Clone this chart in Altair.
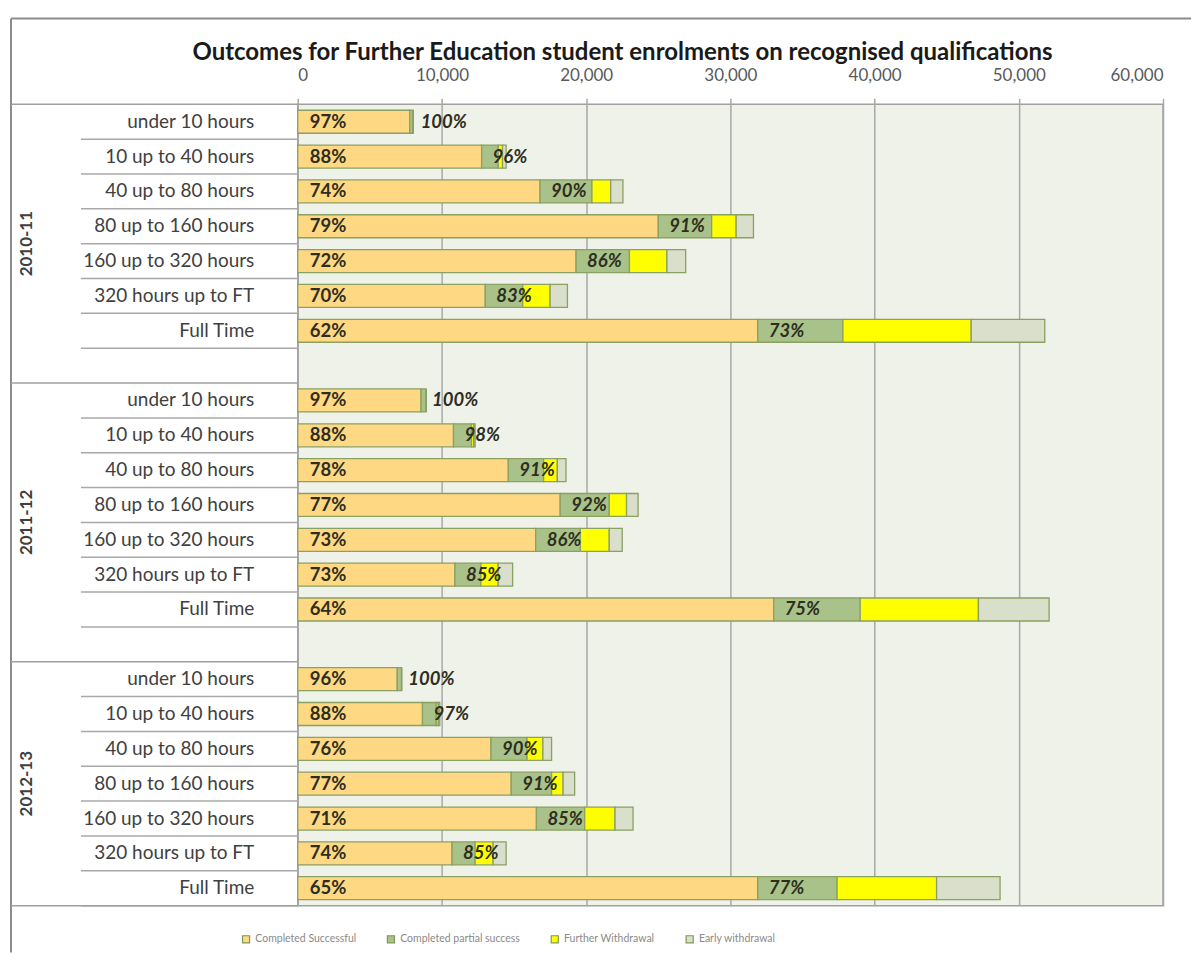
import altair as alt
import pandas as pd

years = ["2010-11", "2011-12", "2012-13"]
categories = ["under 10 hours", "10 up to 40 hours", "40 up to 80 hours",
              "80 up to 160 hours", "160 up to 320 hours", "320 hours up to FT", "Full Time"]
series = ["Completed Successful", "Completed partial success", "Further Withdrawal", "Early withdrawal"]
colors = ["#FFD884", "#A9C28A", "#FFFF00", "#D9DFCA"]

successful = {
    "2010-11": [7760, 12750, 16800, 25000, 19300, 13000, 31900],
    "2011-12": [8550, 10800, 14600, 18200, 16500, 10900, 33000],
    "2012-13": [6900, 8650, 13400, 14800, 16550, 10700, 31900],
}
partial = {
    "2010-11": [240, 1150, 3600, 3700, 3700, 2600, 5900],
    "2011-12": [350, 1250, 2450, 3400, 3100, 1800, 6000],
    "2012-13": [300, 950, 2500, 2800, 3350, 1600, 5500],
}
further = {
    "2010-11": [0, 300, 1300, 1700, 2600, 1900, 8900],
    "2011-12": [0, 150, 950, 1200, 2000, 1200, 8200],
    "2012-13": [0, 150, 1100, 800, 2100, 1250, 6900],
}
early = {
    "2010-11": [0, 250, 850, 1200, 1300, 1200, 5100],
    "2011-12": [0, 100, 600, 800, 900, 1000, 4900],
    "2012-13": [0, 100, 600, 800, 1250, 900, 4400],
}
success_pct = {
    "2010-11": ["97%", "88%", "74%", "79%", "72%", "70%", "62%"],
    "2011-12": ["97%", "88%", "78%", "77%", "73%", "73%", "64%"],
    "2012-13": ["96%", "88%", "76%", "77%", "71%", "74%", "65%"],
}
completed_pct = {
    "2010-11": ["100%", "96%", "90%", "91%", "86%", "83%", "73%"],
    "2011-12": ["100%", "98%", "91%", "92%", "86%", "85%", "75%"],
    "2012-13": ["100%", "97%", "90%", "91%", "85%", "85%", "77%"],
}
title_text = "Outcomes for Further Education student enrolments on recognised qualifications"

# ---- build tables ----
keys = []
for i, yr in enumerate(years):
    keys += [f"{c}|{yr}" for c in categories]
    if i < len(years) - 1:
        keys.append(f"|blank{yr}")

long_rows, label_rows = [], []
for yr in years:
    for j, c in enumerate(categories):
        k = f"{c}|{yr}"
        for o, (s, src) in enumerate(zip(series, [successful, partial, further, early])):
            long_rows.append({"key": k, "series": s, "ord": o, "value": src[yr][j]})
        label_rows.append({"key": k, "zero": 0, "succ": successful[yr][j],
                           "spct": success_pct[yr][j], "cpct": completed_pct[yr][j],
                           "year": yr})
df = pd.DataFrame(long_rows)
lab = pd.DataFrame(label_rows)

W, H = 866, 802
STEP = H / len(keys)

yscale = alt.Scale(domain=keys, paddingInner=0.34, paddingOuter=0.17)
yaxis = alt.Axis(title=None, ticks=False, domain=False, labelExpr="split(datum.label, '|')[0]",
                 labelFont="Lato", labelFontSize=19, labelColor="#404040", labelPadding=44,
                 labelLimit=300)
xscale = alt.Scale(domain=[0, 60000], nice=False)
xaxis = alt.Axis(title=None, orient="top", values=[0, 10000, 20000, 30000, 40000, 50000, 60000],
                 format=",d", grid=True, gridColor="#A8A8A8", gridWidth=1.5, tickColor="#A8A8A8",
                 tickWidth=1.5, tickSize=6, domain=False, labelFont="Lato", labelFontSize=17,
                 labelColor="#595959", labelPadding=14)

def Y():
    return alt.Y("key:N", scale=yscale, axis=yaxis, sort=keys)

bars = alt.Chart(df).mark_bar(stroke="#8BA063", strokeWidth=1.3).encode(
    x=alt.X("value:Q", stack="zero", scale=xscale, axis=xaxis),
    y=Y(),
    color=alt.Color("series:N", scale=alt.Scale(domain=series, range=colors),
                    legend=alt.Legend(title=None, orient="none", legendX=-57, legendY=830,
                                      direction="horizontal", symbolType="square", symbolSize=50,
                                      symbolStrokeColor="#7E9A55", symbolStrokeWidth=1.2,
                                      labelFont="Lato", labelFontSize=10.5, labelColor="#8A8A8A",
                                      columnPadding=28)),
    order=alt.Order("ord:Q"),
)

txt_s = alt.Chart(lab).mark_text(align="left", baseline="middle", dx=12, font="Lato",
                                 fontSize=18.5, fontWeight="bold", color="#2E2E1E").encode(
    x=alt.X("zero:Q", scale=xscale, axis=xaxis), y=Y(), text="spct:N")

txt_c = alt.Chart(lab).mark_text(align="left", baseline="middle", dx=11, font="Lato",
                                 fontSize=18.5, fontWeight="bold", fontStyle="italic",
                                 color="#2E2E1E").encode(
    x=alt.X("succ:Q", scale=xscale, axis=xaxis), y=Y(), text="cpct:N")

# row separators in the label area
sep_cat = alt.Chart(lab).mark_rule(color="#A8A8A8", strokeWidth=1.5, yOffset=STEP / 2).encode(
    y=Y(), x=alt.value(-217), x2=alt.value(0))

first_rows = pd.DataFrame({"key": [f"{categories[0]}|{yr}" for yr in years]})
sep_grp = alt.Chart(first_rows).mark_rule(color="#A0A0A0", strokeWidth=1.5, yOffset=-STEP / 2).encode(
    y=Y(), x=alt.value(-287), x2=alt.value(0))
last_row = pd.DataFrame({"key": [f"{categories[-1]}|{years[-1]}"]})
sep_bot = alt.Chart(last_row).mark_rule(color="#A0A0A0", strokeWidth=1.5, yOffset=STEP / 2).encode(
    y=Y(), x=alt.value(-287), x2=alt.value(0))

# group labels
g12 = pd.DataFrame({"key": [f"{categories[3]}|{yr}" for yr in years[:2]], "year": years[:2]})
g3 = pd.DataFrame({"key": [f"{categories[3]}|{years[2]}"], "year": [years[2]]})
grp_lab1 = alt.Chart(g12).mark_text(angle=270, align="center", baseline="middle", font="Lato",
                                    fontSize=17, fontWeight="bold", color="#404040",
                                    yOffset=STEP / 2).encode(
    y=Y(), x=alt.value(-271), text="year:N")
grp_lab2 = alt.Chart(g3).mark_text(angle=270, align="center", baseline="middle", font="Lato",
                                   fontSize=17, fontWeight="bold", color="#404040").encode(
    y=Y(), x=alt.value(-271), text="year:N")

# outer frame and title
one = pd.DataFrame({"t": [title_text]})
frame_left = alt.Chart(one).mark_rule(color="#8C8C8C", strokeWidth=2).encode(
    x=alt.value(-287), y=alt.value(-86), y2=alt.value(849))
frame_top = alt.Chart(one).mark_rule(color="#8C8C8C", strokeWidth=2).encode(
    x=alt.value(-287), x2=alt.value(894), y=alt.value(-86))
title = alt.Chart(one).mark_text(align="center", baseline="middle", font="Lato", fontSize=24,
                                 fontWeight="bold", color="#1A1A1A").encode(
    x=alt.value(325), y=alt.value(-51), text="t:N")

chart = alt.layer(frame_left, frame_top, title, sep_cat, sep_grp, sep_bot,
                  bars, txt_s, txt_c, grp_lab1, grp_lab2).properties(
    width=W, height=H, padding={"left": 10, "top": 17, "right": 0, "bottom": 0},
    background="white",
).configure_view(fill="#EEF2E9", stroke="#A0A0A0", strokeWidth=1.5)

chart.save("out.html", embed_options={"renderer": "svg", "actions": False})
